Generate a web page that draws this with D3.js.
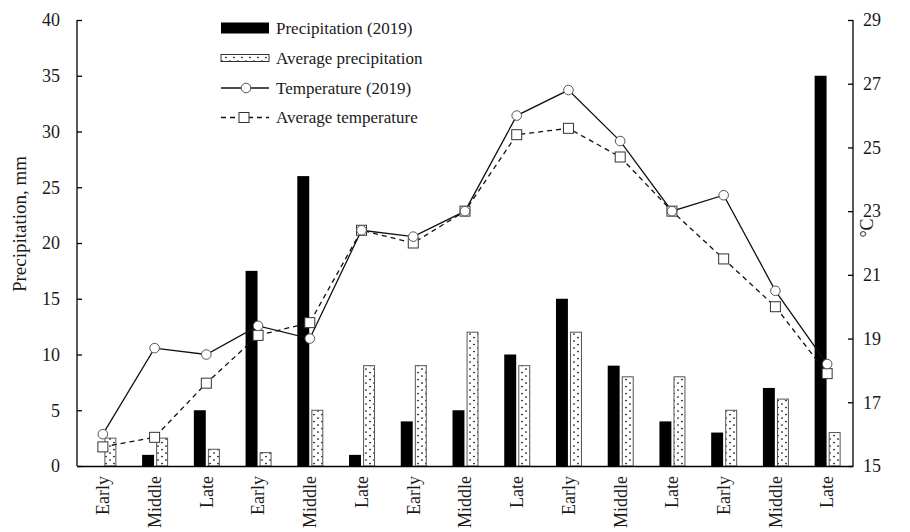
<!DOCTYPE html>
<html>
<head>
<meta charset="utf-8">
<script src="https://cdn.jsdelivr.net/npm/d3@7"></script>
<style>
  html, body { margin: 0; padding: 0; background: #fff; }
  svg { display: block; }
  text { font-family: "Liberation Serif", "Times New Roman", serif; fill: #1a1a1a; }
</style>
</head>
<body>
<svg id="chart" width="910" height="532"></svg>
<script>
const categories = ["Early","Middle","Late","Early","Middle","Late","Early","Middle","Late","Early","Middle","Late","Early","Middle","Late"];
const precip2019 = [0, 1, 5, 17.5, 26, 1, 4, 5, 10, 15, 9, 4, 3, 7, 35];
const precipAvg  = [2.5, 2.5, 1.5, 1.2, 5, 9, 9, 12, 9, 12, 8, 8, 5, 6, 3];
const temp2019   = [16.0, 18.7, 18.5, 19.4, 19.0, 22.4, 22.2, 23.0, 26.0, 26.8, 25.2, 23.0, 23.5, 20.5, 18.2];
const tempAvg    = [15.6, 15.9, 17.6, 19.1, 19.5, 22.4, 22.0, 23.0, 25.4, 25.6, 24.7, 23.0, 21.5, 20.0, 17.9];
const leftTicks  = [0, 5, 10, 15, 20, 25, 30, 35, 40];
const rightTicks = [15, 17, 19, 21, 23, 25, 27, 29];
const legendLabels = ["Precipitation (2019)", "Average precipitation", "Temperature (2019)", "Average temperature"];

const svg = d3.select("#chart");
const L = 77, R = 853, T = 20, B = 466;

const defs = svg.append("defs");
const pat = defs.append("pattern").attr("id","dots").attr("patternUnits","userSpaceOnUse")
  .attr("width", 8).attr("height", 7);
pat.append("rect").attr("width", 8).attr("height", 7).attr("fill", "#fff");
pat.append("circle").attr("cx", 2).attr("cy", 1.5).attr("r", 0.85).attr("fill", "#000");
pat.append("circle").attr("cx", 6).attr("cy", 5).attr("r", 0.85).attr("fill", "#000");

const idx = d3.range(categories.length);
const x = d3.scaleBand().domain(idx).range([L, R]).padding(0);
const xSub = d3.scaleBand().domain(["obs","avg"]).range([x.bandwidth()*0.2585, x.bandwidth()*0.761]).paddingInner(0.15);
const yL = d3.scaleLinear().domain([0, 40]).range([B, T]);
const yR = d3.scaleLinear().domain([15, 29]).range([B, T]);

// bars
const g = svg.append("g");
g.selectAll("rect.obs").data(idx).join("rect").attr("class","obs")
  .attr("x", i => x(i) + xSub("obs")).attr("width", xSub.bandwidth())
  .attr("y", i => yL(precip2019[i])).attr("height", i => yL(0) - yL(precip2019[i]))
  .attr("fill", "#000");
g.selectAll("rect.avg").data(idx).join("rect").attr("class","avg")
  .attr("x", i => x(i) + xSub("avg") + 0.5).attr("width", xSub.bandwidth() - 1)
  .attr("y", i => yL(precipAvg[i])).attr("height", i => yL(0) - yL(precipAvg[i]))
  .attr("fill", "url(#dots)").attr("stroke", "#555").attr("stroke-width", 1);

// axes
const axL = svg.append("g").attr("transform", `translate(${L},0)`)
  .call(d3.axisRight(yL).tickValues(leftTicks).tickSize(5).tickFormat(d3.format("d")));
axL.selectAll("text").remove();
const axR = svg.append("g").attr("transform", `translate(${R},0)`)
  .call(d3.axisLeft(yR).tickValues(rightTicks).tickSize(5).tickFormat(d3.format("d")));
axR.selectAll("text").remove();
[axL, axR].forEach(a => {
  a.select(".domain").attr("stroke", "#000").attr("stroke-width", 1.3).attr("d", `M0,${T}V${B}`);
  a.selectAll(".tick line").attr("stroke", "#000").attr("stroke-width", 1.3);
});
svg.append("g").selectAll("text").data(leftTicks).join("text")
  .attr("x", 60).attr("y", d => yL(d)).attr("dy", "0.35em").attr("text-anchor", "end")
  .attr("font-size", 18).text(d => d);
svg.append("g").selectAll("text").data(rightTicks).join("text")
  .attr("x", 863).attr("y", d => yR(d)).attr("dy", "0.35em").attr("text-anchor", "start")
  .attr("font-size", 18).text(d => d);

// baseline
const axB = svg.append("g").attr("transform", `translate(0,${B})`)
  .call(d3.axisBottom(x).tickSize(0).tickFormat(i => categories[i]));
axB.select(".domain").attr("stroke", "#000").attr("stroke-width", 1.5);
axB.selectAll("text")
  .attr("font-size", 18).attr("fill", "#1a1a1a")
  .attr("font-family", "Liberation Serif, Times New Roman, serif")
  .attr("text-anchor", "end")
  .attr("transform", "rotate(-90)")
  .attr("x", -10).attr("y", 0).attr("dy", "0.35em");

// axis titles
svg.append("text").attr("transform", "translate(19,224) rotate(-90)")
  .attr("text-anchor", "middle").attr("dy", "0.35em").attr("font-size", 19).text("Precipitation, mm");
svg.append("text").attr("transform", "translate(867,228) rotate(-90)")
  .attr("text-anchor", "middle").attr("dy", "0.35em").attr("font-size", 18).text("°C");

// lines
const cx = i => x(i) + x.bandwidth() / 2;
const line2019 = d3.line().x(i => cx(i)).y(i => yR(temp2019[i]));
const lineAvg = d3.line().x(i => cx(i)).y(i => yR(tempAvg[i]));
svg.append("path").attr("d", lineAvg(idx)).attr("fill", "none").attr("stroke", "#111")
  .attr("stroke-width", 1.3).attr("stroke-dasharray", "5,4");
svg.append("path").attr("d", line2019(idx)).attr("fill", "none").attr("stroke", "#111")
  .attr("stroke-width", 1.3);
svg.append("g").selectAll("rect").data(idx).join("rect")
  .attr("x", i => cx(i) - 5).attr("y", i => yR(tempAvg[i]) - 5)
  .attr("width", 10).attr("height", 10).attr("fill", "#fff").attr("stroke", "#333").attr("stroke-width", 1);
svg.append("g").selectAll("circle").data(idx).join("circle")
  .attr("cx", i => cx(i)).attr("cy", i => yR(temp2019[i])).attr("r", 4.8)
  .attr("fill", "#fff").attr("stroke", "#555").attr("stroke-width", 1);

// legend
const lg = svg.append("g");
const rows = [28, 58, 88, 117.5];
const lx0 = 221, lx1 = 269, ltx = 276;
lg.append("rect").attr("x", lx0).attr("y", rows[0]-5.5).attr("width", lx1-lx0).attr("height", 11).attr("fill", "#000");
lg.append("rect").attr("x", lx0).attr("y", rows[1]-3.5).attr("width", lx1-lx0).attr("height", 7)
  .attr("fill", "url(#dots)").attr("stroke", "#333").attr("stroke-width", 1);
lg.append("line").attr("x1", lx0).attr("x2", lx1).attr("y1", rows[2]).attr("y2", rows[2]).attr("stroke", "#111").attr("stroke-width", 1.3);
lg.append("circle").attr("cx", 246).attr("cy", rows[2]).attr("r", 4.8).attr("fill", "#fff").attr("stroke", "#555");
lg.append("line").attr("x1", lx0).attr("x2", lx1).attr("y1", rows[3]).attr("y2", rows[3]).attr("stroke", "#111")
  .attr("stroke-width", 1.3).attr("stroke-dasharray", "5,4");
lg.append("rect").attr("x", 239).attr("y", rows[3]-5).attr("width", 10).attr("height", 10).attr("fill", "#fff").attr("stroke", "#333");
lg.selectAll("text").data(legendLabels).join("text")
  .attr("x", ltx).attr("y", (d, i) => rows[i]).attr("dy", "0.35em").attr("font-size", 17).text(d => d);
</script>
</body>
</html>
